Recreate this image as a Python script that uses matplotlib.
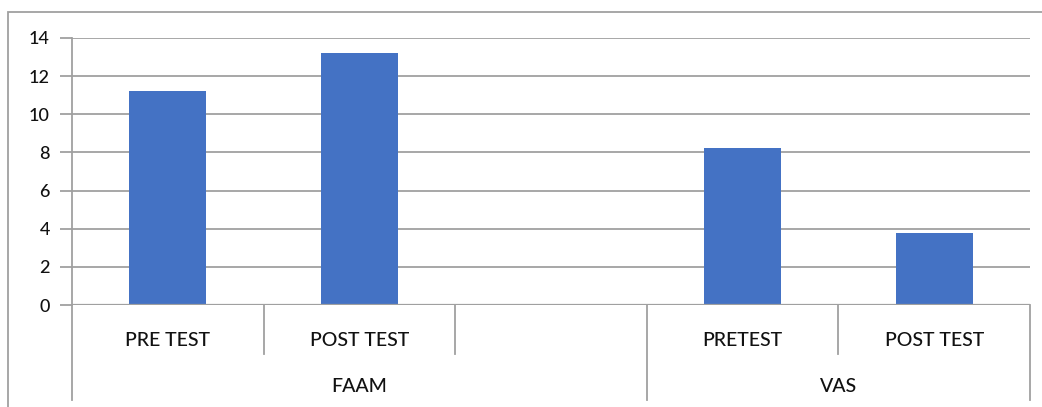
import matplotlib
matplotlib.use("Agg")
import matplotlib.pyplot as plt
from matplotlib.patches import Rectangle

plt.rcParams['font.family'] = ['Lato', 'DejaVu Sans']

# data
sub_labels = ["PRE TEST", "POST TEST", "", "PRETEST", "POST TEST"]
values = [11.2, 13.2, 0, 8.25, 3.75]
groups = ["FAAM", "VAS"]
group_sizes = [3, 2]
y_ticks = [0, 2, 4, 6, 8, 10, 12, 14]

W, H = 1042, 407
fig = plt.figure(figsize=(W / 100, H / 100), dpi=100)

# outer chart border
fig.patches.append(Rectangle((8 / W, -0.02), 1.1, 1 - 12 / H + 0.02,
                             transform=fig.transFigure, fill=False,
                             edgecolor="#a0a0a0", linewidth=1.3))

left, right, top, bottom = 72, 1030, 38, 305
ax = fig.add_axes([left / W, 1 - bottom / H, (right - left) / W, (bottom - top) / H])

n = len(values)
x = list(range(n))
ax.bar(x, values, width=0.4, color="#4472C4", zorder=3)

txt = "#111111"
ax.set_xlim(-0.5, n - 0.5)
ax.set_ylim(0, 14)
ax.set_yticks(y_ticks)
ax.set_yticklabels([str(t) for t in y_ticks], fontsize=13, color=txt,
                   fontweight="medium")
ax.tick_params(axis="y", length=9, width=1.3, color="#a0a0a0", pad=7)
ax.set_xticks([])
ax.grid(axis="y", color="#a0a0a0", linewidth=1.3, zorder=0)
for s in ["top", "right", "bottom"]:
    ax.spines[s].set_visible(False)
ax.spines["left"].set_color("#a0a0a0")
ax.spines["left"].set_linewidth(1.3)
ax.axhline(0, color="#a0a0a0", linewidth=1.6, zorder=4)

tr = ax.get_xaxis_transform()
sub_depth = -(354 - bottom) / (bottom - top)
grp_depth = -(400 - bottom) / (bottom - top)
lc = "#a0a0a0"

# sub-category labels and separators
for i, lab in enumerate(sub_labels):
    ax.text(i, -(340 - bottom) / (bottom - top), lab, transform=tr,
            ha="center", va="center", fontsize=14, color=txt,
            fontweight="medium")

start = 0
bounds = [-0.5]
for g, size in zip(groups, group_sizes):
    end = start + size
    for k in range(start + 1, end):
        ax.plot([k - 0.5, k - 0.5], [0, sub_depth], transform=tr, color=lc,
                linewidth=1.3, clip_on=False)
    bounds.append(end - 0.5)
    ax.text((start + end - 1) / 2, -(387 - bottom) / (bottom - top), g,
            transform=tr, ha="center", va="center", fontsize=14, color=txt,
            fontweight="medium")
    start = end

for b in bounds:
    ax.plot([b, b], [0, grp_depth], transform=tr, color=lc, linewidth=1.3,
            clip_on=False)

fig.savefig("out.png", dpi=100)
